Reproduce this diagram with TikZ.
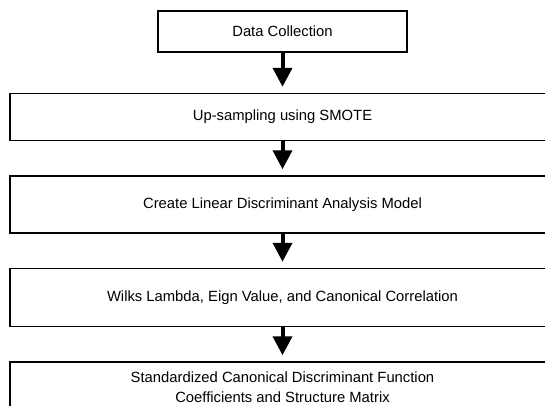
\documentclass[tikz,border=0pt]{standalone}
\usepackage{fontspec}
\setmainfont{Liberation Sans}
\usetikzlibrary{positioning, arrows.meta}
\tikzset{>={Triangle[width=19pt, length=19pt]}}
\tikzset{every text node part/.style={align=center}}
\tikzset{stage/.style={draw, line width=1.5pt, inner sep=0pt, font=\fontsize{14.8}{20}\selectfont}}
\tikzset{smallstage/.style={stage, minimum width=249pt, minimum height=41pt}}
\tikzset{widestage/.style={stage, minimum width=545pt}}
\tikzset{flow/.style={line width=4pt, ->, shorten >=6pt}}

\begin{document}
\begin{tikzpicture}
	
	% Frame
	\clip (0,0) rectangle (545pt,-405pt);
	
	% Nodes
	\node[smallstage] (collect) at (282.5pt,-31.5pt) {Data Collection};
	\node[widestage, minimum height=47pt, below=40pt of collect] (smote) {Up-sampling using SMOTE};
	\node[widestage, minimum height=57pt, below=34pt of smote] (lda) {Create Linear Discriminant Analysis Model};
	\node[widestage, minimum height=58pt, below=34pt of lda] (wilks) {Wilks Lambda, Eign Value, and Canonical Correlation};
	\node[widestage, minimum height=50pt, below=34pt of wilks] (coef) {Standardized Canonical Discriminant Function\\Coefficients and Structure Matrix};
	
	% Arrows
	\draw[flow] (collect) -- (smote);
	\draw[flow] (smote) -- (lda);
	\draw[flow] (lda) -- (wilks);
	\draw[flow] (wilks) -- (coef);
\end{tikzpicture}
\end{document}
